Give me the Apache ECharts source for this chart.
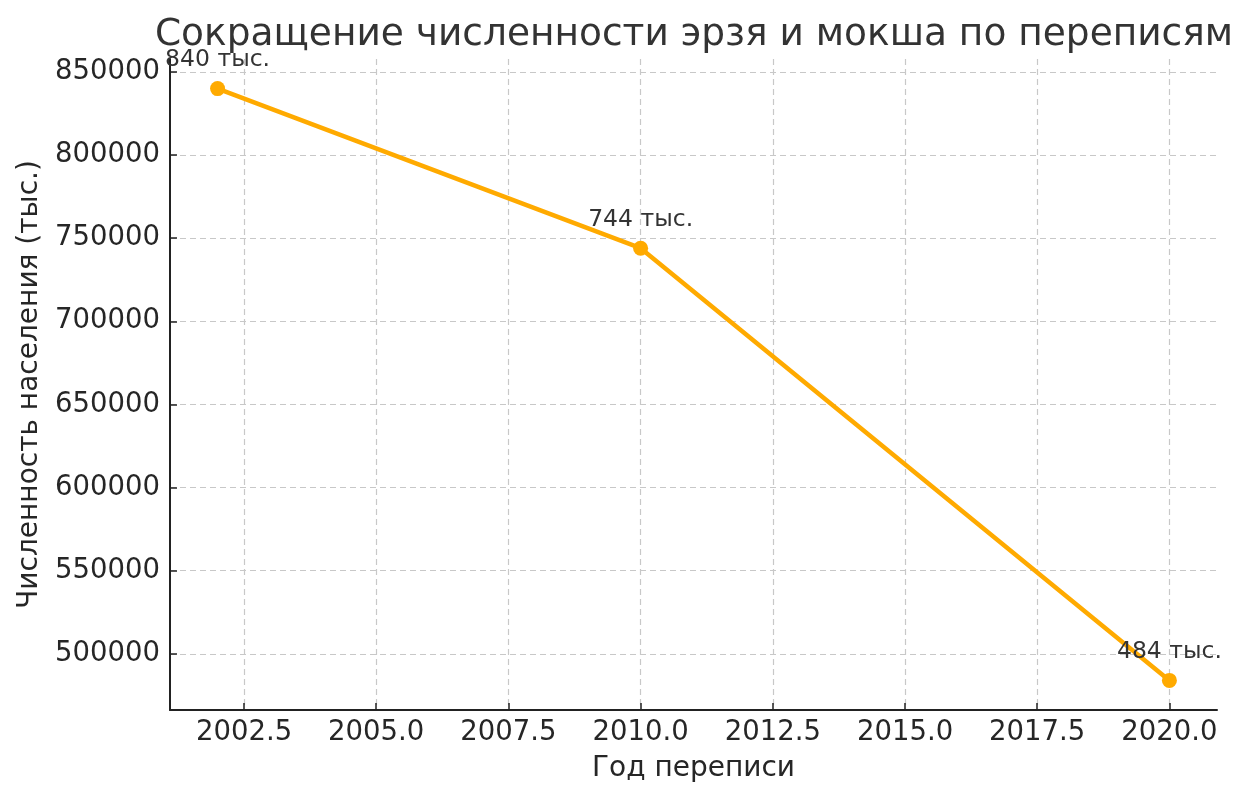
<!DOCTYPE html>
<html>
<head>
<meta charset="utf-8">
<script src="https://cdn.jsdelivr.net/npm/echarts@6/dist/echarts.min.js"></script>
<style>html,body{margin:0;padding:0;background:#fff}#c{width:1250px;height:800px}</style>
</head>
<body>
<div id="c"></div>
<script>
const years = [2002, 2010, 2020];
const population = [840000, 744000, 484000];
const pointLabels = ['840 тыс.', '744 тыс.', '484 тыс.'];
const xTicks = [2002.5, 2005, 2007.5, 2010, 2012.5, 2015, 2017.5, 2020];
const yTicks = [500000, 550000, 600000, 650000, 700000, 750000, 800000, 850000];

const FONT = 'DejaVu Sans';
const chart = echarts.init(document.getElementById('c'), null, {renderer: 'canvas'});
chart.setOption({
  backgroundColor: '#fff',
  animation: false,
  textStyle: {fontFamily: FONT},
  title: {
    text: 'Сокращение численности эрзя и мокша по переписям',
    left: 689, textAlign: 'center', top: 11,
    textStyle: {fontFamily: FONT, fontSize: 37.5, fontWeight: 'normal', color: '#333'}
  },
  grid: {left: 170, right: 33, top: 59, bottom: 90, containLabel: false},
  xAxis: {
    type: 'value', min: 2001.1, max: 2020.9,
    name: 'Год переписи', nameLocation: 'middle', nameGap: 45,
    nameTextStyle: {fontFamily: FONT, fontSize: 28, color: '#262626'},
    axisLine: {show: true, onZero: false, lineStyle: {color: '#222', width: 2}},
    axisTick: {show: true, inside: true, length: 7, customValues: xTicks, lineStyle: {color: '#222', width: 1.5}},
    axisLabel: {customValues: xTicks, fontFamily: FONT, fontSize: 27.5, color: '#262626', margin: 9,
      formatter: v => v.toFixed(1)},
    splitLine: {show: true, lineStyle: {color: '#c8c8c8', type: [6, 4], width: 1.2}}
  },
  yAxis: {
    type: 'value', min: 466200, max: 857800,
    name: 'Численность населения (тыс.)', nameLocation: 'middle', nameGap: 126,
    nameTextStyle: {fontFamily: FONT, fontSize: 28, color: '#262626'},
    axisLine: {show: true, onZero: false, lineStyle: {color: '#222', width: 2}},
    axisTick: {show: true, inside: true, length: 7, customValues: yTicks, lineStyle: {color: '#222', width: 1.5}},
    axisLabel: {customValues: yTicks, fontFamily: FONT, fontSize: 27.5, color: '#262626', margin: 10,
      padding: [5, 0, 0, 0], formatter: v => String(v)},
    splitLine: {show: true, lineStyle: {color: '#c8c8c8', type: [6, 4], width: 1.2}}
  },
  series: [{
    type: 'line',
    data: years.map((y, i) => [y, population[i]]),
    symbol: 'circle', symbolSize: 15,
    lineStyle: {color: '#FFAA00', width: 4.5},
    itemStyle: {color: '#FFAA00'},
    label: {
      show: true, position: 'top', distance: 9,
      fontFamily: FONT, fontSize: 23.5, color: '#333',
      formatter: p => pointLabels[p.dataIndex]
    }
  }]
});
</script>
</body>
</html>
